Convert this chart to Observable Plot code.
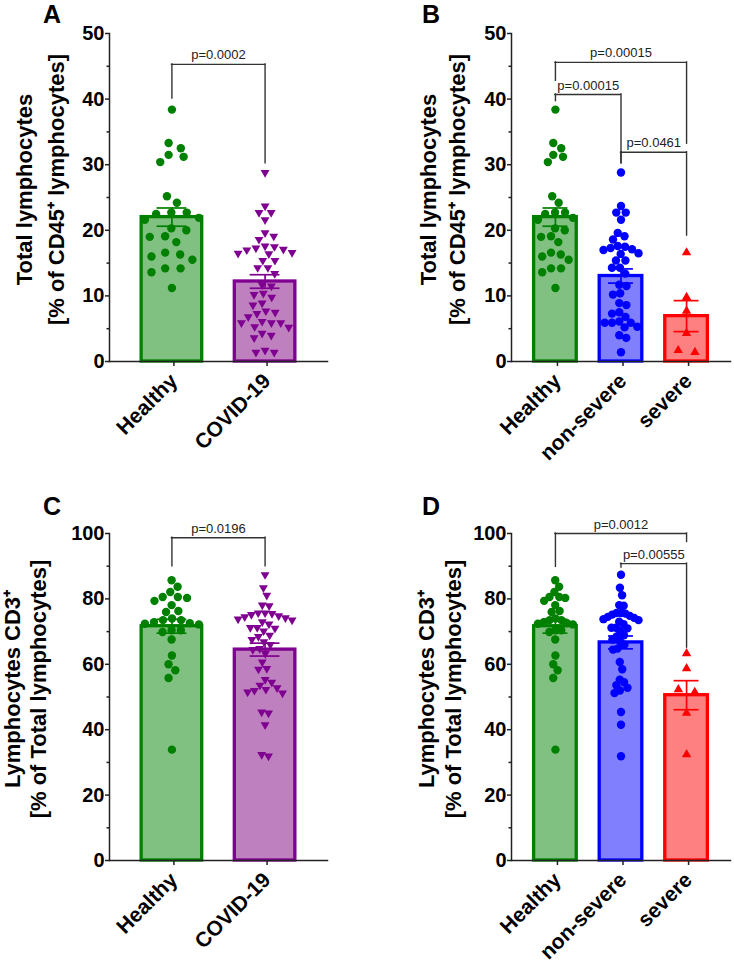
<!DOCTYPE html>
<html><head><meta charset="utf-8">
<script src="https://cdn.jsdelivr.net/npm/d3@7"></script>
<script src="https://cdn.jsdelivr.net/npm/@observablehq/plot@0.6"></script>
<style>
body{margin:0;background:#fff;}
#fig{position:relative;width:734px;height:968px;font-family:"Liberation Sans",Arial,sans-serif;}
.panel{position:absolute;}
.letter{position:absolute;font-size:25px;font-weight:bold;line-height:25px;color:#000;font-family:"Liberation Sans",Arial,sans-serif;}
</style></head><body><div id="fig"></div>
<script>
// ---------- data ----------
const catsTwo = ["Healthy", "COVID-19"];
const catsThree = ["Healthy", "non-severe", "severe"];

const healthyTotal = [38.4, 33.3, 32.5, 31.5, 31.2, 30.4, 25.2, 24.2, 22.5, 21.9, 22.7, 22.7, 21.6, 20.3, 20.0, 19.1, 19.0, 18.2, 16.3, 16.6, 15.5, 16.0, 14.2, 14.2, 13.6, 11.2];
const nonSevereTotal = [28.8, 23.7, 22.7, 22.7, 21.6, 19.6, 19.1, 18.6, 17.6, 17.5, 17.0, 17.1, 17.3, 16.5, 16.4, 15.4, 15.4, 14.3, 14.3, 13.4, 11.7, 11.5, 10.4, 10.2, 8.9, 8.6, 7.5, 7.3, 6.8, 6.1, 5.9, 5.9, 5.9, 5.3, 5.2, 4.0, 3.6, 1.4];
const severeTotal = [16.6, 9.8, 7.7, 4.3, 1.4, 1.7];

const healthyCD3 = [85.7, 83.7, 82.1, 80.6, 79.4, 80.3, 80.6, 78.1, 76.0, 76.3, 73.5, 73.5, 74.0, 72.9, 72.2, 72.4, 72.6, 69.9, 70.4, 70.4, 67.6, 62.7, 60.0, 58.2, 55.8, 33.9];
const nonSevereCD3 = [87.4, 83.4, 81.1, 78.1, 77.9, 75.7, 75.7, 75.5, 75.2, 74.8, 74.5, 74.2, 73.8, 73.5, 73.0, 72.3, 71.2, 71.2, 71.0, 70.2, 68.9, 68.5, 67.6, 66.9, 66.0, 64.8, 64.5, 60.7, 58.5, 55.3, 54.5, 53.6, 52.8, 52.0, 51.2, 45.4, 41.5, 31.9];
const severeCD3 = [63.3, 58.7, 51.5, 52.3, 45.1, 32.4];

const covidTotal = nonSevereTotal.concat(severeTotal);
const covidCD3 = nonSevereCD3.concat(severeCD3);

const ticksTotal = [0, 10, 20, 30, 40, 50];
const minorTotal = [5, 15, 25, 35, 45];
const ticksCD3 = [0, 20, 40, 60, 80, 100];
const minorCD3 = [10, 30, 50, 70, 90];

// brackets: [from index, to index, bar level, left leg end, right leg end, label]
const bracketsA = [[0, 1, 45.3, 40.1, 30.2, "p=0.0002"]];
const bracketsB = [
  [0, 2, 45.6, 42.8, 33.2, "p=0.00015"],
  [0, 1, 40.7, 39.7, 30.2, "p=0.00015"],
  [1, 2, 31.9, 30.2, 19.2, "p=0.0461"]
];
const bracketsC = [[0, 1, 98.7, 90.0, 90.0, "p=0.0196"]];
const bracketsD = [
  [0, 2, 100.0, 89.8, 97.4, "p=0.0012"],
  [1, 2, 90.8, 89.6, 65.1, "p=0.00555"]
];

const labelTotal = "Total lymphocytes\n[% of CD45\u207A lymphocytes]";
const labelCD3 = "Lymphocytes CD3\u207A\n[% of Total lymphocytes]";

// ---------- styles ----------
const sHealthy = {stroke: "#008000", fill: "#80C080", symbol: "circle", rotate: 0, r: 4.2};
const sCovid = {stroke: "#7F0090", fill: "#BF80C0", symbol: "triangle", rotate: 180, r: 3.3};
const sNonSevere = {stroke: "#0000FF", fill: "#8080FF", symbol: "circle", rotate: 0, r: 4.2};
const sSevere = {stroke: "#FF0000", fill: "#FF8080", symbol: "triangle", rotate: 0, r: 3.5};

// ---------- beeswarm ----------
function swarmLayout(Y, d) {
  const n = Y.length, X = new Array(n).fill(0);
  const order = d3.range(n).sort((a, b) => Y[a] - Y[b]);
  const placed = [];
  for (const i of order) {
    const iv = [];
    for (const j of placed) {
      const dy = Math.abs(Y[j] - Y[i]);
      if (dy < d) { const w = Math.sqrt(d * d - dy * dy); iv.push([X[j] - w, X[j] + w]); }
    }
    const cands = [0];
    for (const [a, b] of iv) cands.push(a, b);
    cands.sort((p, q) => Math.abs(p) - Math.abs(q) || q - p);
    X[i] = cands.find(c => iv.every(([a, b]) => c <= a + 1e-6 || c >= b - 1e-6));
    placed.push(i);
  }
  // centre each cluster of mutually touching rows
  let cluster = [];
  const flush = () => {
    if (!cluster.length) return;
    const s = (d3.max(cluster, j => X[j]) + d3.min(cluster, j => X[j])) / 2;
    for (const j of cluster) X[j] -= s;
    cluster = [];
  };
  for (const i of order) {
    if (cluster.length && Y[i] - Y[cluster[cluster.length - 1]] >= d) flush();
    cluster.push(i);
  }
  flush();
  return X;
}
function swarm(spread) {
  return (data, facets, channels, scales) => {
    const Y = Array.from(channels.y.value, v => scales.y(v));
    const C = Array.from(channels.x.value, v => scales.x(v));
    const off = swarmLayout(Y, 8.6);
    const m = d3.max(off, Math.abs) || 1;
    const k = Math.min(2, spread / 2 / m);
    const X = C.map((c, i) => c + off[i] * k);
    return {data, facets, channels: {x: {value: X}, y: {value: Y}}};
  };
}

// ---------- panel ----------
function panel(o) {
  const n = o.cats.length;
  const summary = o.groups.map((g, i) => {
    const m = d3.mean(g.values), se = d3.deviation(g.values) / Math.sqrt(g.values.length);
    return {i, mean: m, lo: m - se, hi: m + se, stroke: g.style.stroke, fill: g.style.fill};
  });
  const br = o.brackets.map(([from, to, y, l, r, label]) => ({from, to, y, l, r, label, mid: (from + to) / 2}));
  const ink = "#222";
  const marks = [
    Plot.rect(summary, {x1: d => d.i - 0.325, x2: d => d.i + 0.325, y1: 0, y2: "mean", fill: "fill", stroke: "stroke", strokeWidth: 3.3})
  ];
  o.groups.forEach((g, i) => {
    const pts = g.values.map(v => ({i, v}));
    marks.push(Plot.dot(pts, Plot.initializer({x: "i", y: "v", r: g.style.r, symbol: g.style.symbol, rotate: g.style.rotate, fill: g.style.stroke, stroke: "none"}, swarm(o.spread))));
  });
  marks.push(
    Plot.ruleX(summary, {x: "i", y1: "lo", y2: "hi", stroke: "stroke", strokeWidth: 1.7}),
    Plot.ruleY(summary, {x1: d => d.i - o.capHalf, x2: d => d.i + o.capHalf, y: "hi", stroke: "stroke", strokeWidth: 1.7}),
    Plot.ruleY(summary, {x1: d => d.i - o.capHalf, x2: d => d.i + o.capHalf, y: "lo", stroke: "stroke", strokeWidth: 1.7}),
    Plot.ruleY(br, {x1: "from", x2: "to", y: "y", stroke: "#333", strokeWidth: 1.4, strokeLinecap: "square"}),
    Plot.ruleX(br, {x: "from", y1: "y", y2: "l", stroke: "#333", strokeWidth: 1.4, strokeLinecap: "square"}),
    Plot.ruleX(br, {x: "to", y1: "y", y2: "r", stroke: "#333", strokeWidth: 1.4, strokeLinecap: "square"}),
    Plot.text(br, {x: "mid", y: "y", text: "label", lineAnchor: "bottom", dy: -5, fontSize: 13, fill: "#222"}),
    Plot.axisY(o.major, {tickSize: 4, tickPadding: 1, fontSize: 20, fontWeight: "bold", label: null, stroke: ink, strokeWidth: 1.5, fill: "#000"}),
    Plot.axisY(o.minor, {tickSize: 2.5, tickFormat: () => "", label: null, stroke: ink, strokeWidth: 1.5}),
    Plot.axisX(d3.range(n), {tickFormat: i => o.cats[i], tickRotate: -45, tickSize: 5, tickPadding: 11, dx: 2, fontSize: 21, fontWeight: "bold", label: null, stroke: ink, strokeWidth: 1.5, fill: "#000"}),
    Plot.frame({anchor: "left", stroke: ink, strokeWidth: 1.5}),
    Plot.frame({anchor: "bottom", stroke: ink, strokeWidth: 1.5}),
    Plot.text([o.yLabel], {text: d => d, frameAnchor: "left", rotate: -90, textAnchor: "middle", lineAnchor: "top", lineHeight: o.lh, fontSize: 22, fontWeight: "bold", dx: o.ldx, dy: -8, fill: "#000"})
  );
  return Plot.plot({
    width: o.w, height: o.h,
    marginLeft: o.mL, marginRight: o.mR, marginTop: o.mT, marginBottom: o.mB,
    x: {domain: [-0.67, n - 0.33]},
    y: {domain: [0, o.yMax]},
    color: {type: "identity"},
    style: {fontFamily: "'Liberation Sans', Arial, sans-serif", color: "#000", background: "transparent", overflow: "visible"},
    marks
  });
}

const fig = document.getElementById("fig");
function place(node, left, top) {
  node.classList.add("panel");
  node.style.left = left + "px"; node.style.top = top + "px";
  fig.appendChild(node);
}
function letter(t, left, top) {
  const d = document.createElement("div");
  d.className = "letter"; d.textContent = t;
  d.style.left = left + "px"; d.style.top = top + "px";
  fig.appendChild(d);
}

place(panel({
  cats: catsTwo, groups: [{values: healthyTotal, style: sHealthy}, {values: covidTotal, style: sCovid}],
  yMax: 50, major: ticksTotal, minor: minorTotal, brackets: bracketsA, yLabel: labelTotal,
  w: 367, h: 480, mL: 109, mR: 40, mT: 33, mB: 119, capHalf: 0.16, spread: 54, lh: 1.45, ldx: -100
}), 0, 0);
place(panel({
  cats: catsThree, groups: [{values: healthyTotal, style: sHealthy}, {values: nonSevereTotal, style: sNonSevere}, {values: severeTotal, style: sSevere}],
  yMax: 50, major: ticksTotal, minor: minorTotal, brackets: bracketsB, yLabel: labelTotal,
  w: 367, h: 480, mL: 144, mR: 4, mT: 33, mB: 119, capHalf: 0.19, spread: 35, lh: 1.35, ldx: -97
}), 367, 0);
place(panel({
  cats: catsTwo, groups: [{values: healthyCD3, style: sHealthy}, {values: covidCD3, style: sCovid}],
  yMax: 100, major: ticksCD3, minor: minorCD3, brackets: bracketsC, yLabel: labelCD3,
  w: 367, h: 478, mL: 109, mR: 40, mT: 43, mB: 108, capHalf: 0.16, spread: 54, lh: 1.22, ldx: -109
}), 0, 490);
place(panel({
  cats: catsThree, groups: [{values: healthyCD3, style: sHealthy}, {values: nonSevereCD3, style: sNonSevere}, {values: severeCD3, style: sSevere}],
  yMax: 100, major: ticksCD3, minor: minorCD3, brackets: bracketsD, yLabel: labelCD3,
  w: 367, h: 478, mL: 144, mR: 4, mT: 43, mB: 108, capHalf: 0.19, spread: 35, lh: 1.2, ldx: -96
}), 367, 490);

letter("A", 43, 2);
letter("B", 422, 2);
letter("C", 43, 494);
letter("D", 422, 494);
</script></body></html>
